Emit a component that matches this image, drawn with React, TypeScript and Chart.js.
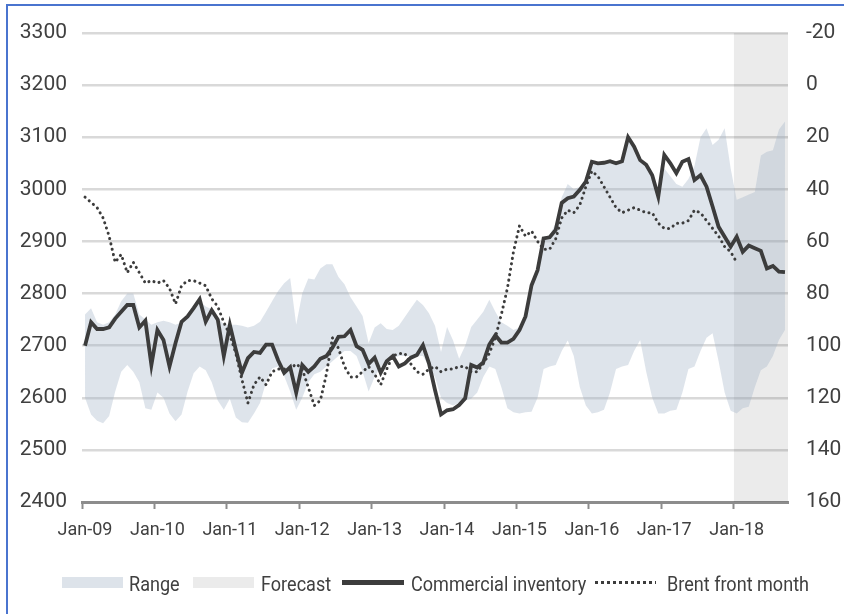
import React, { useEffect, useRef } from 'react';
import { Chart, registerables } from 'chart.js';

Chart.register(...registerables);

// ---------- data ----------
const yearLabels = ['Jan-09', 'Jan-10', 'Jan-11', 'Jan-12', 'Jan-13', 'Jan-14', 'Jan-15', 'Jan-16', 'Jan-17', 'Jan-18'];
const forecastStart = 'Jan-18';

// Commercial inventory, monthly Jan-09 .. Sep-18 (left axis)
const inventory = [
  2700, 2745, 2732, 2732, 2735, 2752, 2765, 2778, 2778, 2735, 2748, 2663,
  2730, 2711, 2660, 2705, 2746, 2756, 2772, 2789, 2746, 2768, 2750, 2680,
  2740, 2692, 2648, 2676, 2688, 2686, 2702, 2702, 2672, 2648, 2659, 2610,
  2663, 2650, 2660, 2675, 2680, 2696, 2717, 2718, 2730, 2699, 2692, 2665,
  2677, 2648, 2670, 2680, 2660, 2666, 2677, 2682, 2701, 2666, 2615, 2568,
  2576, 2578, 2586, 2599, 2663, 2658, 2668, 2702, 2720, 2706, 2706, 2713,
  2730, 2756, 2816, 2845, 2906, 2908, 2922, 2974, 2983, 2986, 2999, 3015,
  3053, 3050, 3051, 3054, 3050, 3054, 3100, 3082, 3056, 3047, 3027, 2986,
  3066, 3050, 3031, 3053, 3058, 3018, 3027, 3005, 2967, 2928, 2909, 2890,
  2909, 2880, 2892, 2887, 2882, 2848, 2853, 2842, 2841,
];

// Brent front month, monthly Jan-09 .. Jan-18 (right axis, reversed)
const brent = [
  43, 45, 47, 51, 58, 68, 65, 72, 68, 72, 76, 75,
  76, 75, 78, 84, 77, 75, 75, 76, 77, 82, 85, 91,
  96, 103, 113, 122, 115, 112, 115, 110, 109, 109, 109, 107,
  109, 116, 123, 121, 111, 97, 101, 108, 112, 112, 110, 108,
  111, 115, 109, 104, 103, 103, 107, 110, 111, 109, 108, 110,
  109, 109, 108, 108, 110, 110, 107, 103, 97, 88, 78, 64,
  54, 58, 56, 60, 63, 63, 59, 51, 48, 49, 46, 39,
  33, 35, 39, 43, 47, 49, 48, 47, 48, 49, 49, 53,
  55, 55, 53, 53, 52, 48, 49, 52, 55, 58, 62, 64,
  68,
];

// Range (band) upper and lower edges, monthly Jan-09 .. Sep-18
const rangeHigh = [
  2760, 2772, 2745, 2740, 2745, 2760, 2785, 2800, 2800, 2760, 2750, 2740,
  2745, 2748, 2745, 2740, 2745, 2755, 2770, 2785, 2775, 2770, 2755, 2740,
  2740, 2740, 2738, 2735, 2738, 2746, 2765, 2785, 2805, 2820, 2830, 2740,
  2800, 2829, 2827, 2848, 2856, 2856, 2832, 2818, 2793, 2775, 2757, 2705,
  2735, 2743, 2732, 2730, 2738, 2755, 2772, 2788, 2778, 2762, 2738, 2688,
  2736, 2710, 2675, 2700, 2736, 2750, 2765, 2788, 2765, 2745, 2738, 2730,
  2735, 2758, 2818, 2845, 2908, 2912, 2935, 2985, 3010, 3000, 3005, 3018,
  3053, 3050, 3051, 3054, 3050, 3054, 3100, 3082, 3056, 3047, 3027, 2990,
  3040, 3025, 3010, 3005, 3020, 3045, 3100, 3117, 3085, 3095, 3117, 3040,
  2980, 2985, 2990, 2995, 3065, 3072, 3075, 3115, 3130,
];
const rangeLow = [
  2600, 2568, 2556, 2551, 2565, 2612, 2650, 2663, 2650, 2630, 2580, 2577,
  2610, 2600, 2570, 2555, 2568, 2612, 2647, 2660, 2653, 2630, 2595, 2577,
  2598, 2562, 2553, 2552, 2570, 2590, 2630, 2656, 2660, 2642, 2612, 2577,
  2600, 2630, 2645, 2650, 2660, 2670, 2680, 2690, 2690, 2680, 2650, 2612,
  2640, 2660, 2670, 2675, 2680, 2680, 2680, 2680, 2680, 2660, 2640, 2600,
  2590, 2585, 2590, 2595, 2598, 2610, 2640, 2660, 2655, 2620, 2580, 2572,
  2570, 2572, 2573, 2600, 2655, 2660, 2663, 2690, 2710, 2680, 2620, 2585,
  2570, 2572, 2577, 2610, 2655, 2660, 2663, 2690, 2711, 2650, 2600, 2570,
  2570, 2575, 2577, 2610, 2655, 2660, 2690, 2715, 2724, 2670, 2610, 2575,
  2570, 2580, 2583, 2620, 2653, 2660, 2680, 2711, 2730,
];

const leftTicks = { min: 2400, max: 3300, step: 100 };
const rightTicks = { min: -20, max: 160, step: 20 };

// ---------- styles ----------
const FONT = 'Roboto, "Liberation Sans", sans-serif';
const TEXT = '#404040';
const LINE = '#3c3c3c';
const BAND = 'rgba(160,178,199,0.35)';
const BAND_SWATCH = '#dde3ea';
const FORECAST = 'rgba(0,0,0,0.08)';
const FORECAST_SWATCH = '#ebebeb';

const xy = (arr: number[]) => arr.map((v, i) => ({ x: i + 0.5, y: v }));

export default function App() {
  const ref = useRef<HTMLCanvasElement>(null);

  useEffect(() => {
    document.body.style.margin = '0';
    const total = inventory.length;
    const fStart = yearLabels.indexOf(forecastStart) * 12;
    const chart = new Chart(ref.current as HTMLCanvasElement, {
      type: 'line',
      data: {
        datasets: [
          {
            label: 'Commercial inventory',
            data: xy(inventory),
            yAxisID: 'y',
            borderColor: LINE,
            borderWidth: 3.8,
            pointRadius: 0,
            fill: false,
            tension: 0,
            order: 0,
          },
          {
            label: 'Brent front month',
            data: xy(brent),
            yAxisID: 'y2',
            borderColor: LINE,
            borderWidth: 3,
            borderDash: [0.1, 5.4],
            borderCapStyle: 'round',
            pointRadius: 0,
            fill: false,
            tension: 0,
            order: 1,
          },
          {
            label: 'Range low',
            data: xy(rangeLow),
            yAxisID: 'y',
            borderColor: 'transparent',
            borderWidth: 0,
            pointRadius: 0,
            fill: false,
            order: 2,
          },
          {
            label: 'Range',
            data: xy(rangeHigh),
            yAxisID: 'y',
            borderColor: 'transparent',
            borderWidth: 0,
            pointRadius: 0,
            backgroundColor: BAND,
            fill: '-1',
            order: 2,
          },
          {
            label: 'Forecast',
            data: [
              { x: fStart, y: leftTicks.max },
              { x: total, y: leftTicks.max },
            ],
            yAxisID: 'y',
            borderColor: 'transparent',
            borderWidth: 0,
            pointRadius: 0,
            backgroundColor: FORECAST,
            fill: 'start',
            order: 3,
          },
        ],
      },
      options: {
        responsive: false,
        animation: false,
        events: [],
        layout: { padding: { left: 8, right: 0, top: 33, bottom: 72 } },
        plugins: { legend: { display: false }, tooltip: { enabled: false } },
        scales: {
          x: {
            type: 'linear',
            position: 'bottom',
            min: 0,
            max: total,
            afterBuildTicks: (axis: any) => {
              axis.ticks = yearLabels.map((_, k) => ({ value: k * 12 }));
            },
            afterFit: (s: any) => {
              s.height = 40;
            },
            ticks: {
              autoSkip: false,
              maxRotation: 0,
              labelOffset: 3,
              padding: 11,
              color: TEXT,
              font: { family: FONT, size: 18 },
              callback: (v: any) => yearLabels[Math.round(Number(v) / 12)],
            },
            grid: {
              drawOnChartArea: false,
              drawTicks: true,
              tickLength: 7,
              tickWidth: 2,
              tickColor: '#8c8c8c',
              color: '#8c8c8c',
            },
            border: { display: true, color: '#8c8c8c', width: 3 },
          },
          y: {
            position: 'left',
            min: leftTicks.min,
            max: leftTicks.max,
            afterFit: (s: any) => {
              s.width = 74;
            },
            ticks: {
              stepSize: leftTicks.step,
              padding: 15,
              color: TEXT,
              font: { family: FONT, size: 21 },
              callback: (v: any) => String(v),
            },
            grid: { color: '#d9d9d9', lineWidth: 2.5, drawTicks: false },
            border: { display: false },
          },
          y2: {
            position: 'right',
            reverse: true,
            min: rightTicks.min,
            max: rightTicks.max,
            afterFit: (s: any) => {
              s.width = 56;
            },
            ticks: {
              stepSize: rightTicks.step,
              padding: 18,
              color: TEXT,
              font: { family: FONT, size: 21 },
              callback: (v: any) => String(v),
            },
            grid: { display: false, drawTicks: false },
            border: { display: false },
          },
        },
      },
    } as any);
    return () => chart.destroy();
  }, []);

  const textStyle = (left: number): React.CSSProperties => ({
    position: 'absolute',
    left,
    top: 572,
    fontFamily: FONT,
    fontSize: 21,
    lineHeight: '24px',
    color: TEXT,
    whiteSpace: 'nowrap',
    transform: 'scaleX(0.86)',
    transformOrigin: 'left center',
  });

  return (
    <div style={{ position: 'relative', width: 844, height: 614, overflow: 'hidden', background: '#fff' }}>
      <div
        style={{
          position: 'absolute',
          left: 6,
          top: 4,
          width: 1000,
          height: 1000,
          borderLeft: '2px solid #4a74cf',
          borderTop: '2px solid #4a74cf',
        }}
      />
      <canvas ref={ref} width={844} height={614} style={{ position: 'absolute', left: 0, top: 0 }} />
      <div style={{ position: 'absolute', left: 62, top: 577, width: 61, height: 11, background: BAND_SWATCH }} />
      <span style={textStyle(129)}>Range</span>
      <div style={{ position: 'absolute', left: 193, top: 577, width: 61, height: 11, background: FORECAST_SWATCH }} />
      <span style={textStyle(261)}>Forecast</span>
      <div style={{ position: 'absolute', left: 342, top: 580, width: 62, height: 5, background: LINE }} />
      <span style={textStyle(411)}>Commercial inventory</span>
      <div
        style={{
          position: 'absolute',
          left: 595,
          top: 581,
          width: 61,
          height: 3,
          background: `repeating-linear-gradient(to right, ${LINE} 0 3px, transparent 3px 6px)`,
        }}
      />
      <span style={textStyle(667)}>Brent front month</span>
    </div>
  );
}
